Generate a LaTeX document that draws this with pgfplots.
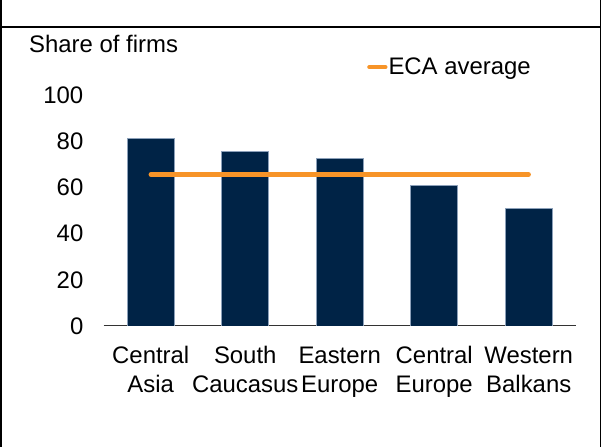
\documentclass[border=0pt]{standalone}
\usepackage{pgfplots}
\pgfplotsset{compat=1.18}
\usepackage{fontspec}
\setmainfont{Liberation Sans}
\definecolor{navy}{RGB}{0,35,70}
\definecolor{baredge}{RGB}{140,160,185}
\definecolor{ecaorange}{RGB}{247,148,40}
\begin{document}
\begin{tikzpicture}[font=\fontsize{24}{29.5}\selectfont]
\useasboundingbox (0bp,0bp) rectangle (601bp,447bp);
% frame
\draw[line width=1.5bp] (0.75bp,0bp) -- (0.75bp,447bp);
\draw[line width=1.5bp] (600.25bp,0bp) -- (600.25bp,447bp);
\draw[line width=2bp] (0bp,420bp) -- (601bp,420bp);
\node[anchor=base west, inner sep=0pt] at (29bp,394.3bp) {Share of firms};
\begin{axis}[
  at={(103.5bp,121bp)}, anchor=south west,
  scale only axis, width=472.5bp, height=231bp,
  xmin=-0.5, xmax=4.5, ymin=0, ymax=100,
  axis x line*=bottom, axis y line*=left,
  x axis line style={-, draw=black!80, line width=1bp},
  y axis line style={draw=none},
  xtick={0,...,4},
  xticklabels={{\strut Central\\\strut Asia},{\strut South\\\strut Caucasus},{\strut Eastern\\\strut Europe},{\strut Central\\\strut Europe},{\strut Western\\\strut Balkans}},
  ytick={0,20,...,100},
  major tick length=0pt,
  xticklabel style={align=center, anchor=north, inner sep=0pt, yshift=-16.5bp},
  yticklabel style={anchor=east, inner sep=0pt, xshift=-20bp},
  /pgf/number format/assume math mode=true,
  legend style={draw=none, fill=none, at={(0.5577,1.121)}, anchor=west,
    inner sep=0pt, nodes={inner sep=0pt},
    /tikz/every odd column/.append style={column sep=1bp}},
  legend image code/.code={\draw[#1] (2bp,0bp) -- (18bp,0bp);},
]
\addplot[ybar, bar width=47bp, fill=navy, draw=baredge, line width=0.6bp, forget plot]
  coordinates {(0,81.3) (1,75.6) (2,72.4) (3,60.9) (4,51.0)};
\addplot[ecaorange, line width=4.3bp, line cap=round, mark=none]
  coordinates {(0,65.6) (1,65.6) (2,65.6) (3,65.6) (4,65.6)};
\addlegendentry{ECA average}
\end{axis}
\end{tikzpicture}
\end{document}
